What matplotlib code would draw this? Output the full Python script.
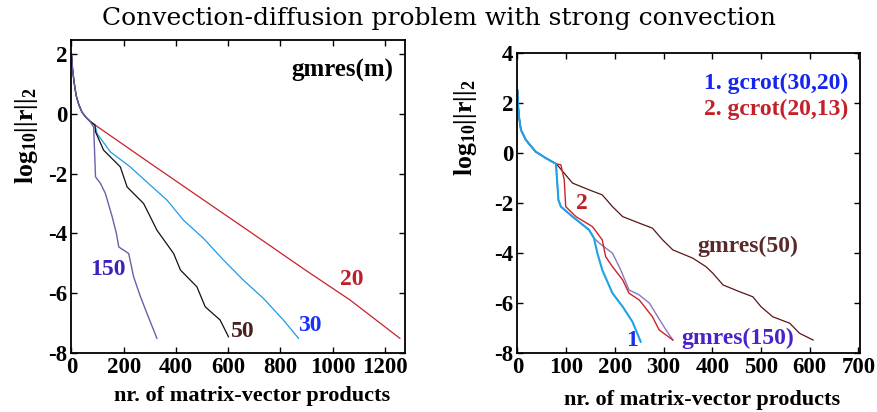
import matplotlib
matplotlib.use("Agg")
import matplotlib.pyplot as plt

plt.rcParams['font.family'] = 'Liberation Serif'
plt.rcParams['axes.unicode_minus'] = False
plt.rcParams['mathtext.fontset'] = 'custom'
plt.rcParams['mathtext.rm'] = 'Liberation Serif:bold'
plt.rcParams['mathtext.bf'] = 'Liberation Serif:bold'
plt.rcParams['mathtext.it'] = 'Liberation Serif:bold'

# ---- left panel: gmres(m) ----
head_x = [0, 4, 10, 18, 28, 40, 55, 70, 90]
head_y = [2.0, 1.5, 1.05, 0.6, 0.3, 0.05, -0.12, -0.25, -0.38]

g20_x = head_x + [300, 500, 684, 900, 1066, 1257]
g20_y = head_y + [-1.65, -2.85, -3.95, -5.25, -6.22, -7.5]

g30_x = head_x + [98, 149, 225, 302, 366, 429, 506, 582, 658, 735, 811, 869]
g30_y = head_y + [-0.67, -1.28, -1.78, -2.39, -2.89, -3.56, -4.17, -4.89, -5.56, -6.17, -6.89, -7.5]

g50_x = head_x + [92, 123, 187, 213, 276, 302, 327, 391, 417, 480, 512, 569, 601]
g50_y = head_y + [-0.61, -1.22, -1.78, -2.45, -3.0, -3.45, -3.89, -4.67, -5.22, -5.78, -6.45, -6.89, -7.45]

g150_x = head_x[:-1] + [85, 92, 111, 130, 156, 172, 181, 219, 238, 264, 289, 327]
g150_y = head_y[:-1] + [-0.45, -2.11, -2.33, -2.67, -3.45, -4.0, -4.45, -4.67, -5.45, -6.11, -6.67, -7.5]

# ---- right panel: gcrot vs gmres ----
rhead_x = [0, 1, 3, 7, 17, 37, 58, 79]
rhead_y = [2.5, 2.0, 1.47, 0.93, 0.53, 0.06, -0.2, -0.43]

gc1_x = rhead_x + [84, 89, 113, 147, 157, 164, 174, 195, 216, 236, 253]
gc1_y = rhead_y + [-1.87, -2.14, -2.54, -3.07, -3.4, -4.0, -4.67, -5.6, -6.14, -6.74, -7.54]

gc2_x = rhead_x + [89, 96, 99, 120, 154, 174, 181, 195, 216, 229, 250, 277, 291, 319]
gc2_y = rhead_y + [-0.47, -1.07, -2.14, -2.54, -2.94, -3.47, -4.14, -4.54, -5.07, -5.6, -5.87, -6.54, -7.07, -7.47]

rg50_x = rhead_x + [84, 113, 147, 174, 195, 216, 250, 277, 298, 319, 360, 387, 401,
                    422, 456, 483, 500, 524, 559, 579, 607]
rg50_y = rhead_y + [-0.53, -1.2, -1.47, -1.67, -2.14, -2.54, -2.8, -3.0, -3.47, -3.87, -4.2, -4.54, -4.8,
                    -5.27, -5.54, -5.74, -6.14, -6.54, -6.8, -7.2, -7.47]

rg150_x = gc1_x[:13] + [168, 195, 212, 229, 250, 271, 288, 305, 319]
rg150_y = gc1_y[:13] + [-3.6, -4.0, -4.67, -5.47, -5.67, -6.0, -6.54, -7.07, -7.47]

fig = plt.figure(figsize=(8.78, 4.12), dpi=100)
ax1 = fig.add_axes([0.0814, 0.1425, 0.380, 0.760])
ax2 = fig.add_axes([0.5894, 0.1425, 0.390, 0.729])

ax1.plot(g20_x, g20_y, color='#c8202a', lw=0.9)
ax1.plot(g30_x, g30_y, color='#1c9ce6', lw=0.9)
ax1.plot(g50_x, g50_y, color='#111111', lw=0.9)
ax1.plot(g150_x, g150_y, color='#6b5fa8', lw=1.0)
ax1.set_xlim(0, 1277)
ax1.set_ylim(-8, 2.45)
ax1.set_xticks(range(0, 1201, 200))
ax1.set_yticks(range(-8, 3, 2))

bold = dict(fontweight='bold', fontsize=17)
ax1.text(1232, 1.45, 'gmres(m)', ha='right', va='center', color='black',
         fontweight='bold', fontsize=18)
ax1.text(139, -5.22, '150', ha='center', va='center', color='#3a22c0', **bold)
ax1.text(657, -7.28, '50', ha='center', va='center', color='#4a2020', **bold)
ax1.text(913, -7.06, '30', ha='center', va='center', color='#1a30ff', **bold)
ax1.text(1072, -5.53, '20', ha='center', va='center', color='#c01f2a', **bold)

ax2.plot(rg50_x, rg50_y, color='#5c1414', lw=0.9)
ax2.plot(rg150_x, rg150_y, color='#8878c0', lw=1.0)
ax2.plot(gc2_x, gc2_y, color='#cc2228', lw=1.0)
ax2.plot(gc1_x, gc1_y, color='#1fa0e8', lw=1.5)
ax2.set_xlim(0, 703)
ax2.set_ylim(-8, 4)
ax2.set_xticks(range(0, 701, 100))
ax2.set_yticks(range(-8, 5, 2))

ax2.text(679, 2.8, '1. gcrot(30,20)', ha='right', va='center', color='#1525ee', **bold)
ax2.text(679, 1.73, '2. gcrot(20,13)', ha='right', va='center', color='#c4202a', **bold)
ax2.text(132, -2.0, '2', ha='center', va='center', color='#c0202a', **bold)
ax2.text(236, -7.5, '1', ha='center', va='center', color='#1a30ee', **bold)
ax2.text(336, -7.4, 'gmres(150)', ha='left', va='center', color='#4a22c8', **bold)
ax2.text(370, -3.74, 'gmres(50)', ha='left', va='center', color='#5a2a2a', **bold)

ylab = r'$\mathbf{log_{10}||r||_2}$'
for ax, lx, ly, xx, xy in [(ax1, -0.136, 0.694, 0.54, -0.135),
                           (ax2, -0.152, 0.749, 0.54, -0.155)]:
    for s in ax.spines.values():
        s.set_linewidth(1.3)
    ax.tick_params(direction='in', top=True, right=True, length=4, width=1,
                   labelsize=16.5, pad=3)
    for lab in ax.get_xticklabels() + ax.get_yticklabels():
        lab.set_fontweight('bold')
    ax.text(lx, ly, ylab, rotation=90, ha='center', va='center',
            transform=ax.transAxes, fontsize=18.5)
    ax.text(xx, xy, 'nr. of matrix-vector products', ha='center', va='center',
            transform=ax.transAxes, fontweight='bold', fontsize=16)

fig.text(0.5, 0.955, 'Convection-diffusion problem with strong convection',
         ha='center', va='center', fontsize=18, family='DejaVu Serif')

fig.savefig('out.png', dpi=100)
